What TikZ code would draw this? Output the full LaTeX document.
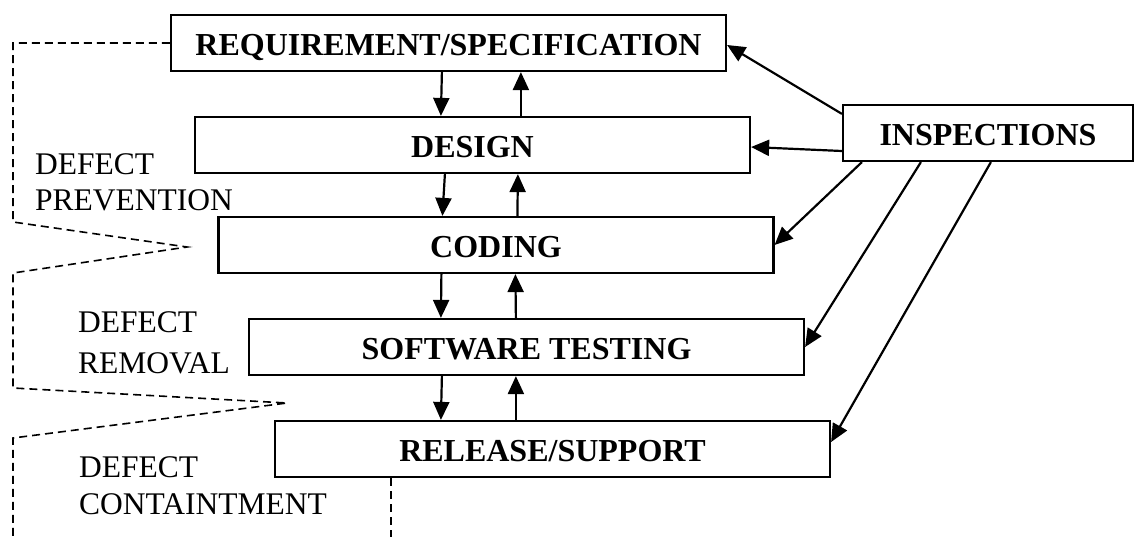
\documentclass[tikz,border=0pt]{standalone}
\usepackage{fontspec}
\setmainfont{Liberation Serif}
\usetikzlibrary{arrows.meta}
\begin{document}
\begin{tikzpicture}[x=1pt,y=-1pt,
  stage/.style={draw, line width=2.2pt, minimum width=555pt, minimum height=56pt, inner sep=0pt,
    font=\fontsize{32}{38}\selectfont\bfseries, text height=25pt, text depth=0pt},
  flow/.style={line width=2.2pt, -{Triangle[length=18pt,width=16pt]}},
  link/.style={line width=2.2pt, -{Triangle[length=18pt,width=16pt]}},
  bound/.style={dash pattern=on 8pt off 5pt, line width=1.6pt},
  lbl/.style={anchor=north west, inner sep=0pt, align=left}]
\useasboundingbox (0,0) rectangle (1135,536);

\node[stage] (req) at (448.5,43) {REQUIREMENT/SPECIFICATION};
\node[stage] (des) at (472.5,145) {DESIGN};
\node[stage] (cod) at (496,245) {CODING};
\node[stage] (swt) at (526.5,347) {SOFTWARE TESTING};
\node[stage] (rel) at (552.5,449) {RELEASE/SUPPORT};
\node[stage, minimum width=290pt] (insp) at (988,133) {INSPECTIONS};

\node[lbl, font=\fontsize{31.5}{36}\selectfont] (prev) at (35,153) {DEFECT\\PREVENTION};
\node[lbl, font=\fontsize{31.5}{41}\selectfont] (remv) at (78,311.7) {DEFECT\\REMOVAL};
\node[lbl, font=\fontsize{31.5}{37}\selectfont] (cont) at (79,456.7) {DEFECT\\CONTAINTMENT};

\draw[bound] (req.west) -- (13,43) -- (13,222) -- (187,247) -- (13,273) -- (13,388)
  -- (287,403) -- (13,438) -- (13,536);
\draw[bound] ([xshift=117pt]rel.south west) -- ++(0,59);

\draw[flow] ([xshift=272pt]req.south west) -- ([xshift=247pt]des.north west);
\draw[flow] ([xshift=327pt]des.north west) -- ([xshift=351pt]req.south west);
\draw[flow] ([xshift=251pt]des.south west) -- ([xshift=225pt]cod.north west);
\draw[flow] ([xshift=300pt]cod.north west) -- ([xshift=324pt]des.south west);
\draw[flow] ([xshift=224pt]cod.south west) -- ([xshift=193pt]swt.north west);
\draw[flow] ([xshift=268pt]swt.north west) -- ([xshift=298pt]cod.south west);
\draw[flow] ([xshift=194pt]swt.south west) -- ([xshift=167pt]rel.north west);
\draw[flow] ([xshift=242pt]rel.north west) -- ([xshift=268pt]swt.south west);

\draw[link] ([yshift=-10pt]insp.north west) -- ([yshift=-2pt]req.east);
\draw[link] ([yshift=-18pt]insp.west) -- ([yshift=-2pt]des.east);
\draw[link] ([xshift=20pt]insp.south west) -- (cod.east);
\draw[link] ([xshift=79pt]insp.south west) -- (swt.east);
\draw[link] ([xshift=149pt]insp.south west) -- ([yshift=7pt]rel.east);
\end{tikzpicture}
\end{document}
